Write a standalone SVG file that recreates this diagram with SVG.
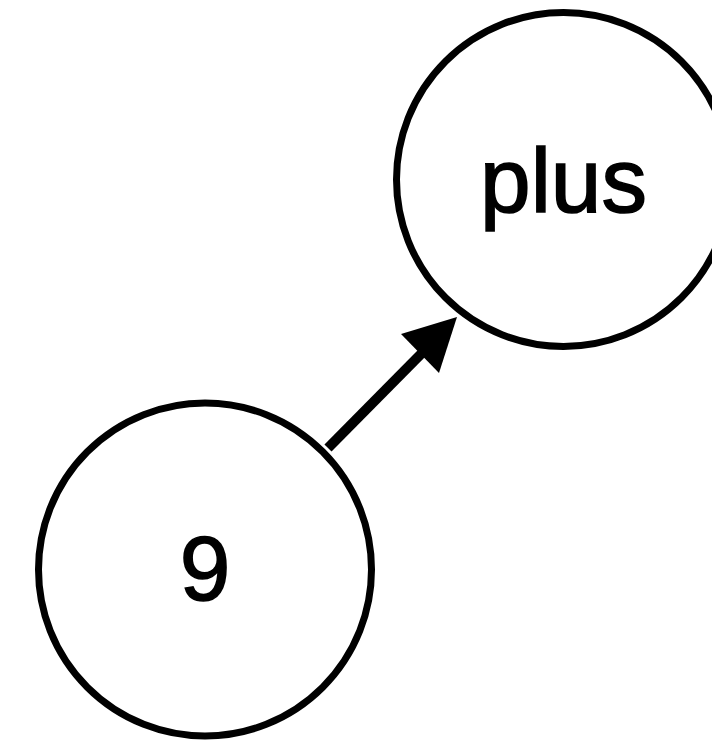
<svg xmlns="http://www.w3.org/2000/svg" width="712" height="743" viewBox="0 0 712 743">
<style>
.node{fill:#fff;stroke:#000;stroke-width:7}
.lbl{font-family:"Liberation Sans",Arial,sans-serif;font-size:91px;fill:#000;stroke:#000;stroke-width:1.6;text-anchor:middle}
.edge{stroke:#000;stroke-width:10;fill:none}
</style>
<rect width="712" height="743" fill="#fff"/>
<g id="node-plus">
<circle class="node" cx="563.5" cy="179.5" r="167"/>
<text class="lbl" x="563.5" y="212">plus</text>
</g>
<g id="node-9">
<circle class="node" cx="205" cy="569.5" r="166.5"/>
<text class="lbl" x="205" y="600">9</text>
</g>
<g id="connectors">
<path class="edge" d="M328,448 L423,352"/>
<polygon points="457,317 401,334 439,373" fill="#000"/>
</g>
</svg>
